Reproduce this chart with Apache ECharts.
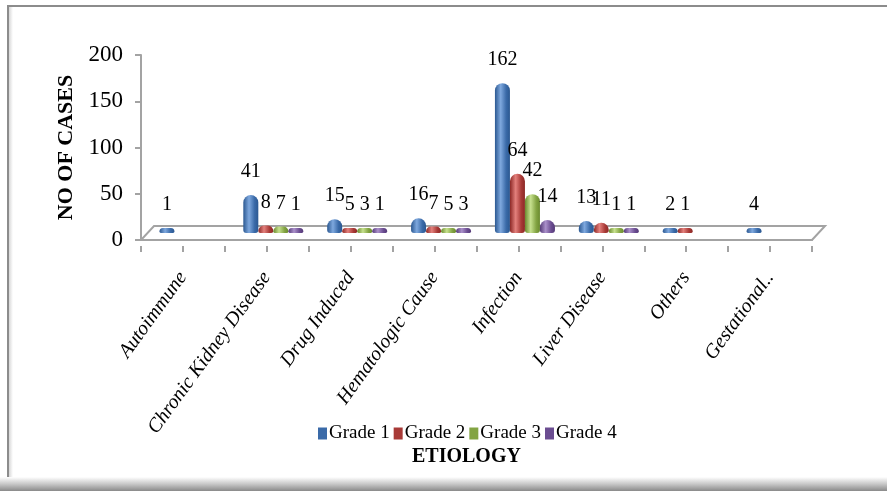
<!DOCTYPE html>
<html>
<head>
<meta charset="utf-8">
<script src="https://cdn.jsdelivr.net/npm/echarts@6/dist/echarts.min.js"></script>
<style>
html,body{margin:0;padding:0;background:#fff;}
#chart{width:887px;height:491px;}
</style>
</head>
<body>
<div id="chart"></div>
<script>
// ---- data ----
var categories = ['Autoimmune','Chronic Kidney Disease','Drug Induced','Hematologic Cause','Infection','Liver Disease','Others','Gestational..'];
var seriesNames = ['Grade 1','Grade 2','Grade 3','Grade 4'];
var grade1 = [1, 41, 15, 16, 162, 13, 2, 4];
var grade2 = [0, 8, 5, 7, 64, 11, 1, 0];
var grade3 = [0, 7, 3, 5, 42, 1, 0, 0];
var grade4 = [0, 1, 1, 3, 14, 1, 0, 0];
var yTicks = [0, 50, 100, 150, 200];

// ---- style ----
var FONT = '"Liberation Serif", "Times New Roman", serif';
var palettes = [
  ['#2b5891', '#7ea8de', '#3a6aa8'],
  ['#8c2825', '#e3807c', '#a83a37'],
  ['#6a8a2e', '#c6e08e', '#83a443'],
  ['#553a78', '#aa90ca', '#6b4d91']
];
function cyl(p) {
  return new echarts.graphic.LinearGradient(0, 0, 1, 0, [
    {offset: 0, color: p[0]},
    {offset: 0.38, color: p[1]},
    {offset: 0.75, color: p[2]},
    {offset: 1, color: p[0]}
  ]);
}
var AX = '#a3a3a3';
// axis grid (front plane) and bar grid (mid depth, shifted for 3D look)
var G0 = {left: 141, right: 75, top: 55, bottom: 251};
var SHIFT_X = 6.5, SHIFT_Y = 7;
var G1 = {left: G0.left + SHIFT_X, right: G0.right - SHIFT_X, top: G0.top - SHIFT_Y, bottom: G0.bottom + SHIFT_Y};
var W = 887, H = 491;
var x0 = G0.left, x1 = W - G0.right, yF = H - G0.bottom, DEPTH = 13, DY = 14;
// thin strip just below the front axis, used only to draw the half-category ticks
var G2 = {left: G0.left, right: G0.right, top: yF, height: 6};
var halfBands = categories.concat(categories).map(function (c, i) { return String(i); });

var dataSets = [grade1, grade2, grade3, grade4];
var series = dataSets.map(function (arr, i) {
  return {
    name: seriesNames[i],
    type: 'bar',
    xAxisIndex: 1,
    yAxisIndex: 1,
    barWidth: 15,
    barGap: '0%',
    barMinHeight: 5,
    z: 3,
    data: arr.map(function (v) { return v === 0 ? null : v; }),
    itemStyle: {color: cyl(palettes[i]), borderRadius: [7.5, 7.5, 3, 3]},
    label: {
      show: true, position: 'top', distance: 13,
      color: '#000', fontFamily: FONT, fontSize: 20
    }
  };
});
// invisible carrier series for the axis pairs without bars
series.push({
  type: 'line', xAxisIndex: 0, yAxisIndex: 0, silent: true, symbol: 'none',
  data: categories.map(function () { return null; })
});
series.push({
  type: 'line', xAxisIndex: 2, yAxisIndex: 2, silent: true, symbol: 'none',
  data: halfBands.map(function () { return null; })
});

var chart = echarts.init(document.getElementById('chart'), null, {renderer: 'canvas'});
chart.setOption({
  backgroundColor: '#fff',
  animation: false,
  legend: {
    data: seriesNames.map(function (n, i) { return {name: n, itemStyle: {color: palettes[i][2]}}; }),
    left: 313, top: 419,
    icon: 'rect', itemWidth: 9, itemHeight: 12, itemGap: 4,
    textStyle: {fontFamily: FONT, fontSize: 19, color: '#000', padding: [0, 0, 0, -3]}
  },
  grid: [
    Object.assign({containLabel: false}, G0),
    Object.assign({containLabel: false}, G1),
    Object.assign({containLabel: false}, G2)
  ],
  xAxis: [
    {
      type: 'category', gridIndex: 0, data: categories, position: 'bottom',
      axisLine: {show: true, lineStyle: {color: AX, width: 2}},
      axisTick: {show: false},
      axisLabel: {
        rotate: 54, margin: 34, interval: 0,
        fontFamily: FONT, fontStyle: 'italic', fontSize: 20, color: '#000'
      }
    },
    {
      type: 'category', gridIndex: 1, data: categories, show: false
    },
    {
      type: 'category', gridIndex: 2, position: 'top', data: halfBands,
      boundaryGap: true,
      axisLine: {show: false},
      axisTick: {show: true, inside: true, interval: 0, length: 6, lineStyle: {color: AX, width: 2}},
      axisLabel: {show: false}
    }
  ],
  yAxis: [
    {
      type: 'value', gridIndex: 0, min: yTicks[0], max: yTicks[yTicks.length - 1], interval: 50,
      name: 'NO OF CASES', nameLocation: 'middle', nameGap: 61, nameRotate: 90,
      nameTextStyle: {fontFamily: FONT, fontWeight: 'bold', fontSize: 22, color: '#000'},
      axisLine: {show: true, lineStyle: {color: AX, width: 2}},
      axisTick: {show: true, length: 6, lineStyle: {color: AX, width: 2}},
      splitLine: {show: false},
      axisLabel: {fontFamily: FONT, fontSize: 23, color: '#000', margin: 18}
    },
    {
      type: 'value', gridIndex: 1, min: yTicks[0], max: yTicks[yTicks.length - 1], interval: 50, show: false
    },
    {
      type: 'value', gridIndex: 2, min: 0, max: 1, show: false
    }
  ],
  graphic: [
    // outer frame
    {type: 'rect', z: -10, silent: true, shape: {x: 8, y: 6, width: 900, height: 478},
      style: {fill: 'none', stroke: '#8c8c8c', lineWidth: 2}},
    {type: 'rect', z: -10, silent: true, shape: {x: 9, y: 7, width: 4, height: 472},
      style: {fill: new echarts.graphic.LinearGradient(0, 0, 1, 0, [{offset: 0, color: '#d8d8d8'}, {offset: 1, color: '#ffffff'}])}},
    {type: 'rect', z: -10, silent: true, shape: {x: 0, y: 477, width: 887, height: 14},
      style: {fill: new echarts.graphic.LinearGradient(0, 0, 0, 1, [{offset: 0, color: '#ffffff'}, {offset: 0.5, color: '#c8c8c8'}, {offset: 1, color: '#8a8a8a'}])}},
    // 3D floor
    {type: 'polygon', z: -5, silent: true,
      shape: {points: [[x0, yF], [x1, yF], [x1 + DEPTH, yF - DY], [x0 + DEPTH, yF - DY]]},
      style: {fill: 'none', stroke: AX, lineWidth: 2}},
    // x axis title
    {type: 'text', z: 5, left: 412, top: 447,
      style: {text: 'ETIOLOGY', fontFamily: FONT, fontWeight: 'bold', fontSize: 20, fill: '#000'}}
  ],
  series: series
});
</script>
</body>
</html>
